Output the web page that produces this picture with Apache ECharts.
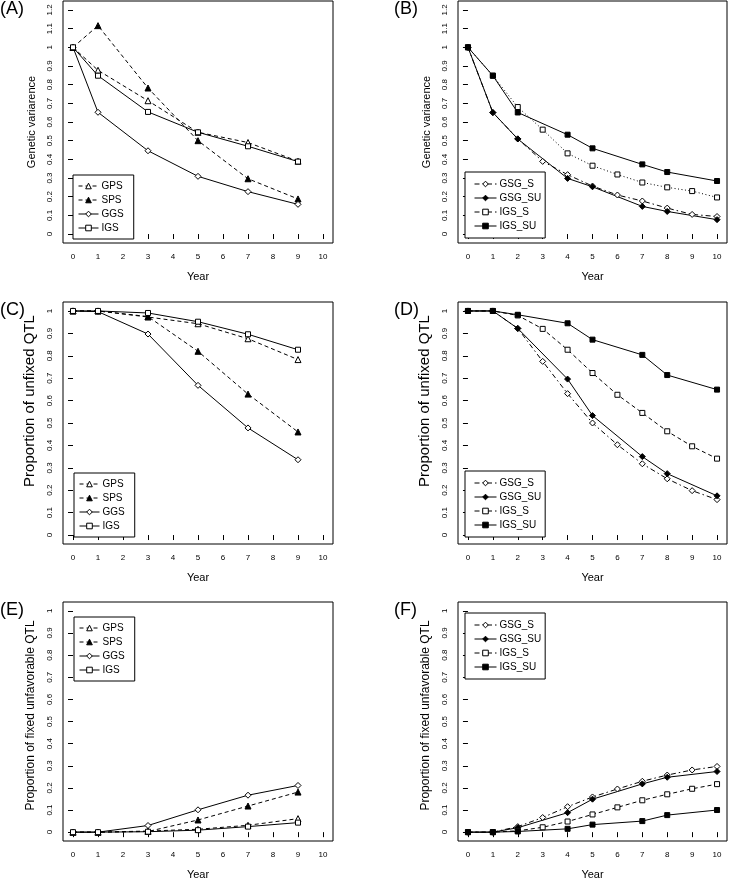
<!DOCTYPE html>
<html><head><meta charset="utf-8">
<script src="https://cdn.jsdelivr.net/npm/echarts@6/dist/echarts.min.js"></script>
<style>html,body{margin:0;padding:0;background:#fff}#c{width:729px;height:881px}</style>
</head><body><div id="c"></div>
<script>
// ---- data ----
const years6 = [0, 1, 3, 5, 7, 9];
const years11 = [0, 1, 2, 3, 4, 5, 6, 7, 8, 9, 10];
const years8 = [0, 1, 2, 4, 5, 7, 8, 10];
const xTicks = [0, 1, 2, 3, 4, 5, 6, 7, 8, 9, 10];
const yTicksAB = [0, 0.1, 0.2, 0.3, 0.4, 0.5, 0.6, 0.7, 0.8, 0.9, 1, 1.1, 1.2];
const yTicks01 = [0, 0.1, 0.2, 0.3, 0.4, 0.5, 0.6, 0.7, 0.8, 0.9, 1];

// (A) Genetic variance
const gpsA = [1, 0.877, 0.714, 0.545, 0.49, 0.39];
const spsA = [1, 1.116, 0.782, 0.5, 0.296, 0.188];
const ggsA = [1, 0.652, 0.446, 0.309, 0.227, 0.159];
const igsA = [1, 0.848, 0.654, 0.545, 0.47, 0.388];
// (B) Genetic variance
const gsgSB = [1, 0.65, 0.51, 0.389, 0.318, 0.257, 0.209, 0.177, 0.139, 0.105, 0.094];
const gsgSUB = [1, 0.651, 0.509, 0.298, 0.253, 0.148, 0.121, 0.077];
const igsSB = [1, 0.848, 0.68, 0.559, 0.432, 0.366, 0.319, 0.276, 0.25, 0.23, 0.196];
const igsSUB = [1, 0.848, 0.651, 0.532, 0.459, 0.373, 0.332, 0.284];
// (C) Proportion of unfixed QTL
const gpsC = [1, 1, 0.973, 0.943, 0.876, 0.783];
const spsC = [1, 1, 0.975, 0.82, 0.629, 0.46];
const ggsC = [1, 0.997, 0.897, 0.668, 0.478, 0.336];
const igsC = [1, 1, 0.991, 0.952, 0.896, 0.827];
// (D) Proportion of unfixed QTL
const gsgSD = [1, 1, 0.922, 0.775, 0.631, 0.5, 0.403, 0.318, 0.251, 0.198, 0.158];
const gsgSUD = [1, 1, 0.922, 0.696, 0.533, 0.35, 0.274, 0.175];
const igsSD = [1, 1, 0.98, 0.92, 0.827, 0.723, 0.626, 0.545, 0.463, 0.396, 0.341];
const igsSUD = [1, 1, 0.983, 0.945, 0.872, 0.804, 0.714, 0.649];
// (E) Proportion of fixed unfavorable QTL
const gpsE = [0, 0, 0.005, 0.013, 0.031, 0.061];
const spsE = [0, 0, 0.003, 0.055, 0.118, 0.181];
const ggsE = [0, 0, 0.03, 0.101, 0.167, 0.211];
const igsE = [0, 0, 0.002, 0.009, 0.025, 0.043];
// (F) Proportion of fixed unfavorable QTL
const gsgSF = [0, 0, 0.025, 0.066, 0.115, 0.159, 0.195, 0.23, 0.258, 0.281, 0.297];
const gsgSUF = [0, 0, 0.02, 0.088, 0.149, 0.218, 0.248, 0.274];
const igsSF = [0, 0, 0.006, 0.022, 0.048, 0.08, 0.112, 0.144, 0.171, 0.196, 0.217];
const igsSUF = [0, 0, 0.003, 0.015, 0.034, 0.05, 0.077, 0.1];

const panelLabels = ['(A)', '(B)', '(C)', '(D)', '(E)', '(F)'];
const yNames = ['Genetic variarence', 'Genetic variarence', 'Proportion of unfixed QTL', 'Proportion of unfixed QTL',
  'Proportion of fixed unfavorable QTL', 'Proportion of fixed unfavorable QTL'];
const xName = 'Year';
const namesL = ['GPS', 'SPS', 'GGS', 'IGS'];
const namesR = ['GSG_S', 'GSG_SU', 'IGS_S', 'IGS_SU'];

// ---- styling / layout ----
const FONT = 'Liberation Sans, Arial, Helvetica, sans-serif';
const grids = [
  {left: 63, top: 1, width: 270, height: 242},
  {left: 458, top: 1, width: 269, height: 242},
  {left: 63, top: 302, width: 270, height: 242},
  {left: 458, top: 302, width: 269, height: 242},
  {left: 63, top: 602, width: 270, height: 242},
  {left: 458, top: 602, width: 269, height: 242}
].map(g => Object.assign(g, {show: true, borderColor: '#000', borderWidth: 1, backgroundColor: 'transparent', containLabel: false}));

const yNameSize = [11, 11, 15, 15, 12, 12];
const yNameShift = [0, 0, 44, 44, 12, 12];
const titlePos = [[0, 0], [394, 0], [0, 301], [394, 301], [0, 601], [394, 601]];
const legendPos = [[73, 175], [465, 172], [74, 473], [465, 471], [74, 617], [465, 613]];

const open = {color: '#fff', borderColor: '#000', borderWidth: 1};
const filled = {color: '#000', borderColor: '#000', borderWidth: 1};

function fmt(v) { return String(parseFloat(Number(v).toFixed(2))); }

const xAxes = grids.map((g, i) => ({
  type: 'value', gridIndex: i, min: -0.4, max: 10.4,
  name: xName, nameLocation: 'middle', nameGap: 28,
  nameTextStyle: {fontFamily: FONT, fontSize: 11, color: '#000'},
  axisLine: {show: false},
  axisTick: {show: true, length: 5, customValues: xTicks, lineStyle: {color: '#000', width: 1}},
  axisLabel: {show: true, customValues: xTicks, margin: 10, fontFamily: FONT, fontSize: 8, color: '#000', formatter: fmt},
  splitLine: {show: false}
}));
const yAxes = grids.map((g, i) => {
  const ab = i < 2;
  const ticks = ab ? yTicksAB : yTicks01;
  return {
    type: 'value', gridIndex: i, min: ab ? -0.048 : -0.04, max: ab ? 1.248 : 1.04,
    name: yNames[i], nameLocation: 'middle', nameRotate: 90, nameGap: 26,
    nameTextStyle: {fontFamily: FONT, fontSize: yNameSize[i], color: '#000', padding: [0, 0, 0, yNameShift[i]]},
    axisLine: {show: false},
    axisTick: {show: true, length: 5, customValues: ticks, lineStyle: {color: '#000', width: 1}},
    axisLabel: {show: true, customValues: ticks, rotate: 90, margin: 9, fontFamily: FONT, fontSize: 8, color: '#000', formatter: fmt},
    splitLine: {show: false}
  };
});

function ser(name, gi, xs, ys, symbol, style, lineType) {
  return {
    type: 'line', name: name, xAxisIndex: gi, yAxisIndex: gi,
    data: xs.map((x, k) => [x, ys[k]]),
    symbol: symbol, symbolSize: symbol === 'rect' ? 5 : 6, showSymbol: true,
    itemStyle: style,
    lineStyle: {color: '#000', width: 1, type: lineType},
    emphasis: {disabled: true}, animation: false, z: 3
  };
}
const DASH = [4, 3];
const DOT = [1, 2.5];
const DASHDOT = [5, 3, 1.5, 3];

const series = [];
[[gpsA, spsA, ggsA, igsA], [gpsC, spsC, ggsC, igsC], [gpsE, spsE, ggsE, igsE]].forEach((d, j) => {
  const gi = j * 2;
  series.push(ser('GPS', gi, years6, d[0], 'triangle', open, DASH));
  series.push(ser('SPS', gi, years6, d[1], 'triangle', filled, DASH));
  series.push(ser('GGS', gi, years6, d[2], 'diamond', open, 'solid'));
  series.push(ser('IGS', gi, years6, d[3], 'rect', open, 'solid'));
});
[[gsgSB, gsgSUB, igsSB, igsSUB, DOT], [gsgSD, gsgSUD, igsSD, igsSUD, DASH], [gsgSF, gsgSUF, igsSF, igsSUF, DASH]].forEach((d, j) => {
  const gi = j * 2 + 1;
  series.push(ser('GSG_S', gi, years11, d[0], 'diamond', open, DASHDOT));
  series.push(ser('GSG_SU', gi, years8, d[1], 'diamond', filled, 'solid'));
  series.push(ser('IGS_S', gi, years11, d[2], 'rect', open, d[4]));
  series.push(ser('IGS_SU', gi, years8, d[3], 'rect', filled, 'solid'));
});

const titles = panelLabels.map((t, i) => ({
  text: t, left: titlePos[i][0], top: titlePos[i][1], padding: 0,
  textStyle: {fontFamily: FONT, fontSize: 18, fontWeight: 'normal', color: '#000'}
}));

const legends = legendPos.map((p, i) => {
  const left = i % 2 === 0;
  const data = left ? namesL : namesR.map(n => n === 'IGS_S' ? {name: n, lineStyle: {type: DASHDOT, width: 1}} : n);
  return {
    data: data,
    left: p[0], top: p[1], orient: 'vertical',
    itemWidth: left ? 20 : 22, itemHeight: 7, itemGap: 4,
    padding: left ? [6, 10, 6, 5] : [7, 4, 7, 9],
    borderColor: '#000', borderWidth: 1, borderRadius: 0,
    backgroundColor: '#fff',
    selectedMode: false,
    itemStyle: {borderWidth: 1},
    lineStyle: {width: 1},
    textStyle: {fontFamily: FONT, fontSize: 10, lineHeight: 10, color: '#000', padding: [0, 0, 0, -2]}
  };
});

const chart = echarts.init(document.getElementById('c'), null, {renderer: 'canvas'});
chart.setOption({
  animation: false,
  backgroundColor: '#fff',
  title: titles,
  legend: legends,
  grid: grids,
  xAxis: xAxes,
  yAxis: yAxes,
  series: series
});
</script></body></html>
